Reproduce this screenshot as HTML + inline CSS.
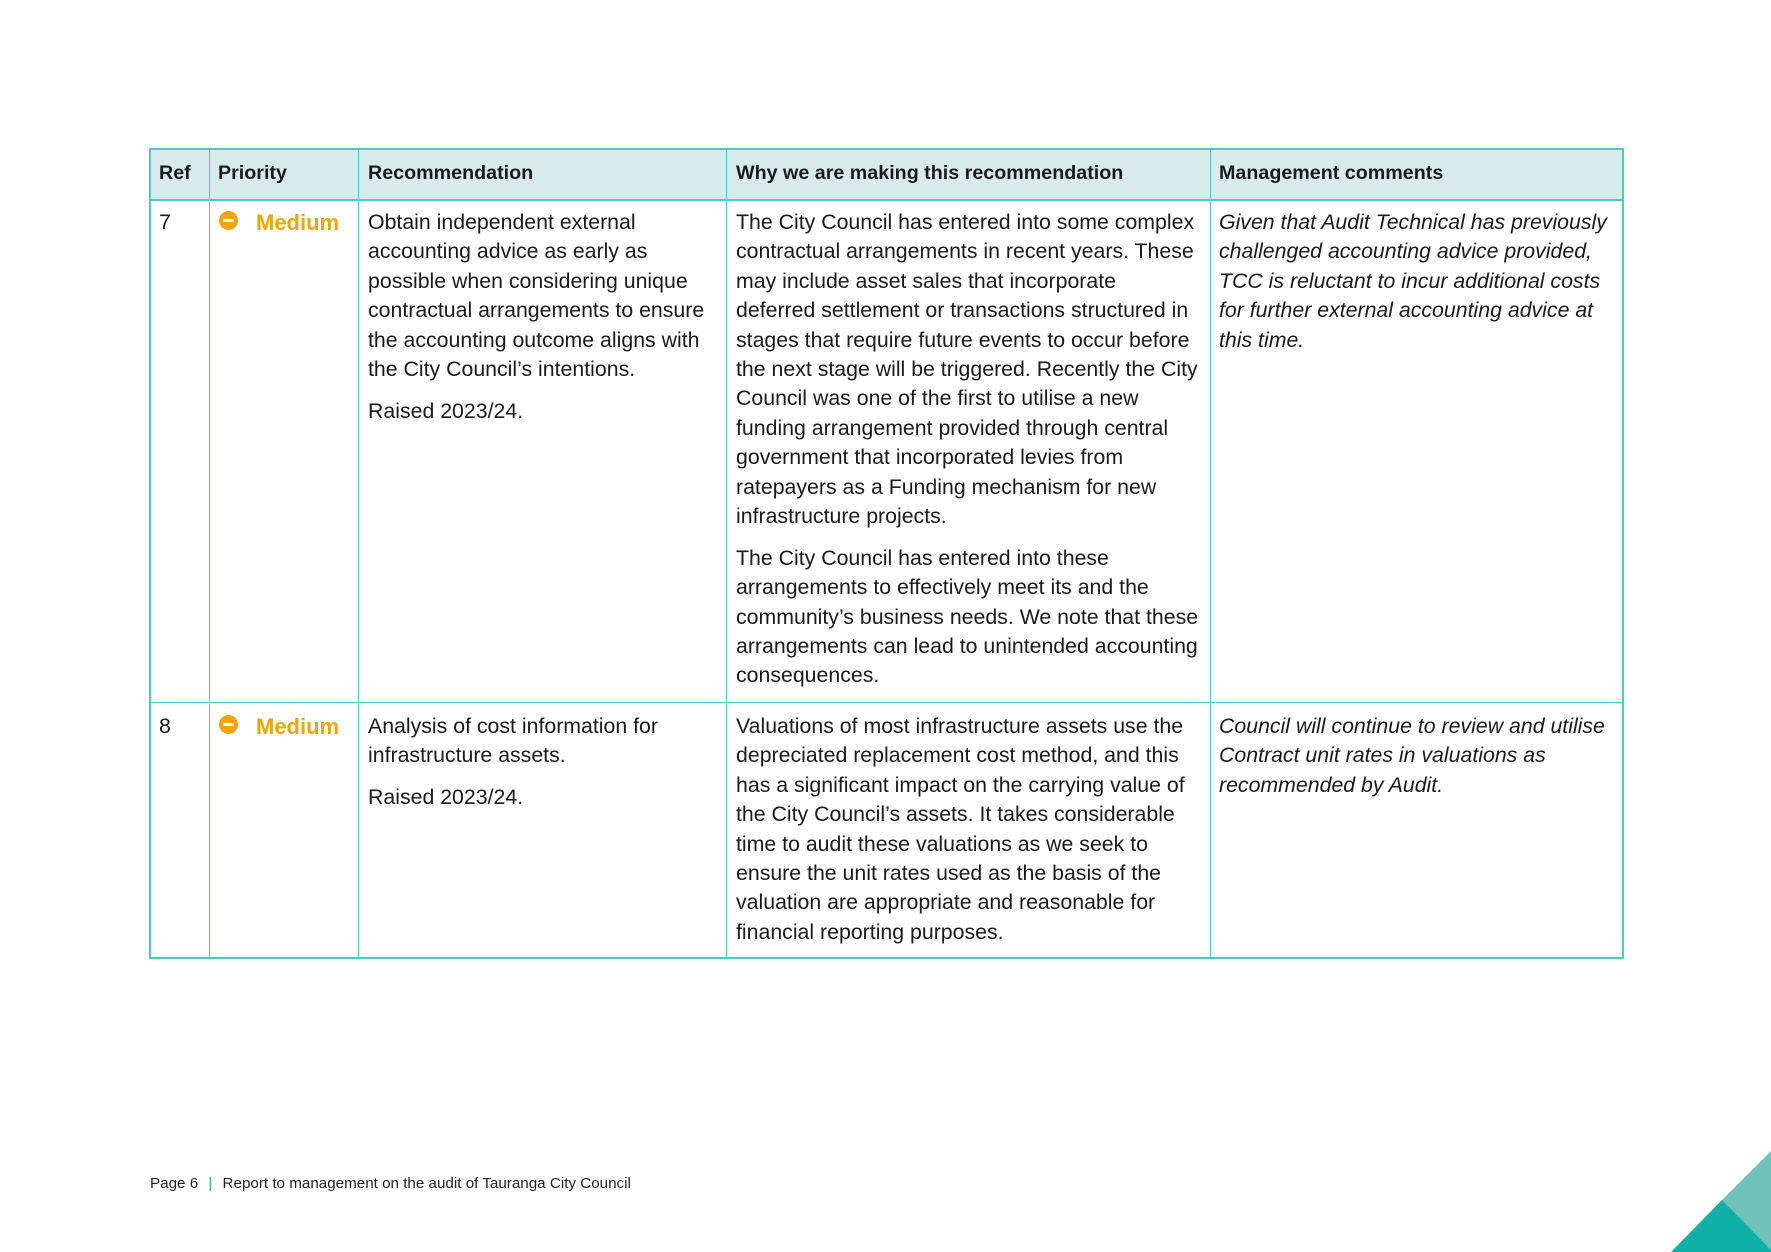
<!DOCTYPE html>
<html><head><style>
html,body{margin:0;padding:0;background:#fff;}
body{width:1771px;height:1252px;position:relative;overflow:hidden;font-family:"Liberation Sans",sans-serif;color:#1a1a1a;}
.hb{position:absolute;left:150px;top:149px;width:1473px;height:51px;background:#d7ebea;}
.hl{position:absolute;background:#4ccac6;}
.t{position:absolute;font-size:21.3px;line-height:29.4px;white-space:nowrap;}
.h{position:absolute;font-size:19.7px;font-weight:bold;top:159px;line-height:29px;white-space:nowrap;}
.i{font-style:italic;}
.p{margin-bottom:12.4px;}
.med{position:absolute;color:#f2a500;font-weight:bold;font-size:22px;line-height:29px;}
.dot{position:absolute;width:19px;height:19px;border-radius:50%;background:#f2a500;}
.dot:after{content:"";position:absolute;left:4px;top:8px;width:11px;height:3px;background:#fff;}
</style></head><body>
<div class="hb"></div>
<div class="hl" style="left:150px;top:148px;width:1474px;height:2px"></div>
<div class="hl" style="left:150px;top:199px;width:1474px;height:2px"></div>
<div class="hl" style="left:150px;top:702px;width:1474px;height:1px"></div>
<div class="hl" style="left:150px;top:957px;width:1474px;height:2px"></div>
<div class="hl" style="left:149px;top:148px;width:2px;height:811px"></div>
<div class="hl" style="left:209px;top:148px;width:1px;height:811px"></div>
<div class="hl" style="left:358px;top:148px;width:1px;height:811px"></div>
<div class="hl" style="left:726px;top:148px;width:1px;height:811px"></div>
<div class="hl" style="left:1210px;top:148px;width:1px;height:811px"></div>
<div class="hl" style="left:1622px;top:148px;width:2px;height:811px"></div>

<div class="h" style="left:159px">Ref</div>
<div class="h" style="left:218px">Priority</div>
<div class="h" style="left:368px">Recommendation</div>
<div class="h" style="left:736px">Why we are making this recommendation</div>
<div class="h" style="left:1219px">Management comments</div>

<div class="t" style="left:159px;top:208px">7</div>
<div class="dot" style="left:219px;top:211px"></div>
<div class="med" style="left:256px;top:208px">Medium</div>
<div class="t" style="left:368px;top:208px"><div class="p">Obtain independent external<br>accounting advice as early as<br>possible when considering unique<br>contractual arrangements to ensure<br>the accounting outcome aligns with<br>the City Council’s intentions.</div><div>Raised 2023/24.</div></div>
<div class="t" style="left:736px;top:208px"><div class="p">The City Council has entered into some complex<br>contractual arrangements in recent years. These<br>may include asset sales that incorporate<br>deferred settlement or transactions structured in<br>stages that require future events to occur before<br>the next stage will be triggered. Recently the City<br>Council was one of the first to utilise a new<br>funding arrangement provided through central<br>government that incorporated levies from<br>ratepayers as a Funding mechanism for new<br>infrastructure projects.</div><div>The City Council has entered into these<br>arrangements to effectively meet its and the<br>community’s business needs. We note that these<br>arrangements can lead to unintended accounting<br>consequences.</div></div>
<div class="t i" style="left:1219px;top:208px">Given that Audit Technical has previously<br>challenged accounting advice provided,<br>TCC is reluctant to incur additional costs<br>for further external accounting advice at<br>this time.</div>

<div class="t" style="left:159px;top:712px">8</div>
<div class="dot" style="left:219px;top:715px"></div>
<div class="med" style="left:256px;top:712px">Medium</div>
<div class="t" style="left:368px;top:712px"><div class="p">Analysis of cost information for<br>infrastructure assets.</div><div>Raised 2023/24.</div></div>
<div class="t" style="left:736px;top:712px">Valuations of most infrastructure assets use the<br>depreciated replacement cost method, and this<br>has a significant impact on the carrying value of<br>the City Council’s assets. It takes considerable<br>time to audit these valuations as we seek to<br>ensure the unit rates used as the basis of the<br>valuation are appropriate and reasonable for<br>financial reporting purposes.</div>
<div class="t i" style="left:1219px;top:712px">Council will continue to review and utilise<br>Contract unit rates in valuations as<br>recommended by Audit.</div>

<div style="position:absolute;left:150px;top:1175px;font-size:15.2px;line-height:18px;white-space:nowrap;color:#222">Page 6 <span style="color:#2bb5b0;margin:0 6px">|</span> Report to management on the audit of Tauranga City Council</div>

<svg style="position:absolute;left:0;top:0" width="1771" height="1252">
<polygon points="1722,1200 1771,1151 1771,1252 1722,1252" fill="#70c2bc"/>
<polygon points="1671,1252 1722,1200 1771,1250 1771,1252" fill="#0fb0a8"/>
</svg>
</body></html>
